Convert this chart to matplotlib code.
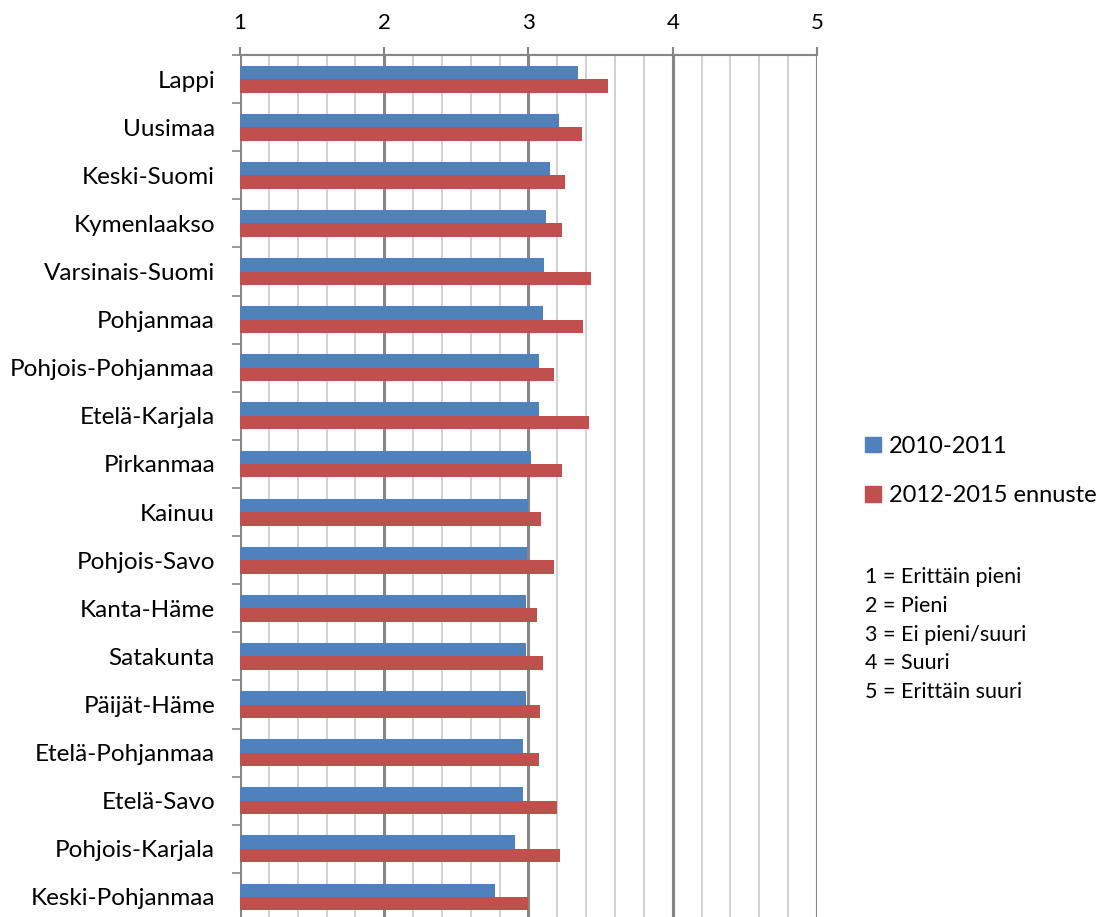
import matplotlib.pyplot as plt
import numpy as np
from matplotlib.patches import Patch

plt.rcParams['font.family'] = ['Lato', 'DejaVu Sans']

# maakunnat ja keskiarvot (asteikko 1-5)
regions = ['Lappi', 'Uusimaa', 'Keski-Suomi', 'Kymenlaakso', 'Varsinais-Suomi',
           'Pohjanmaa', 'Pohjois-Pohjanmaa', 'Etelä-Karjala', 'Pirkanmaa', 'Kainuu',
           'Pohjois-Savo', 'Kanta-Häme', 'Satakunta', 'Päijät-Häme', 'Etelä-Pohjanmaa',
           'Etelä-Savo', 'Pohjois-Karjala', 'Keski-Pohjanmaa']
v_2010_2011 = [3.345, 3.21, 3.15, 3.12, 3.11, 3.10, 3.07, 3.07, 3.015, 3.00,
               2.99, 2.985, 2.985, 2.98, 2.96, 2.96, 2.905, 2.765]
v_2012_2015 = [3.55, 3.37, 3.25, 3.23, 3.43, 3.375, 3.18, 3.42, 3.235, 3.085,
               3.175, 3.06, 3.10, 3.08, 3.075, 3.195, 3.22, 3.00]
series_names = ['2010-2011', '2012-2015 ennuste']
scale_notes = ['1 = Erittäin pieni', '2 = Pieni', '3 = Ei pieni/suuri',
               '4 = Suuri', '5 = Erittäin suuri']

blue = '#4F81BD'
red = '#C0504D'

fig = plt.figure(figsize=(11, 9.17), dpi=100)
ax = fig.add_axes([0.2182, -0.0044, 0.5245, 0.9444])

y = np.arange(len(regions))
h = 0.28
ax.barh(y - h / 2, np.array(v_2010_2011) - 1, left=1, height=h, color=blue, zorder=3)
ax.barh(y + h / 2, np.array(v_2012_2015) - 1, left=1, height=h, color=red, zorder=3)

ax.set_xlim(1, 5)
ax.set_ylim(len(regions) - 0.5, -0.5)

# ruudukko: pienet 0.2 välein, isot kokonaisluvuilla
for v in np.arange(1, 5.01, 0.2):
    major = abs(v - round(v)) < 1e-6
    ax.axvline(v, color='#868686' if major else '#d0d0d0',
               lw=2.2 if major else 1.4, zorder=1)

ax.xaxis.tick_top()
ax.set_xticks([1, 2, 3, 4, 5])
ax.tick_params(axis='x', direction='out', length=6, width=1.5, color='#868686',
               labelsize=16, pad=10)
ax.set_yticks(np.arange(len(regions) + 1) - 0.5, minor=True)
ax.set_yticks(y)
ax.set_yticklabels(regions, fontsize=17.5)
ax.tick_params(axis='y', which='major', length=0, pad=18)
ax.tick_params(axis='y', which='minor', direction='out', length=6, width=1.2,
               color='#868686')

for s in ['right', 'bottom', 'left']:
    ax.spines[s].set_visible(False)
ax.spines['top'].set_color('#868686')
ax.spines['top'].set_linewidth(1.5)

handles = [Patch(color=blue), Patch(color=red)]
fig.legend(handles, series_names, loc='upper left', bbox_to_anchor=(0.778, 0.535),
           frameon=False, fontsize=17, handlelength=0.65, handleheight=0.65,
           handletextpad=0.35, labelspacing=1.2, borderaxespad=0)

for i, t in enumerate(scale_notes):
    fig.text(0.786, 1 - (577 + i * 28.8) / 917, t, fontsize=15.5, va='center')

fig.savefig('out.png', dpi=100)
